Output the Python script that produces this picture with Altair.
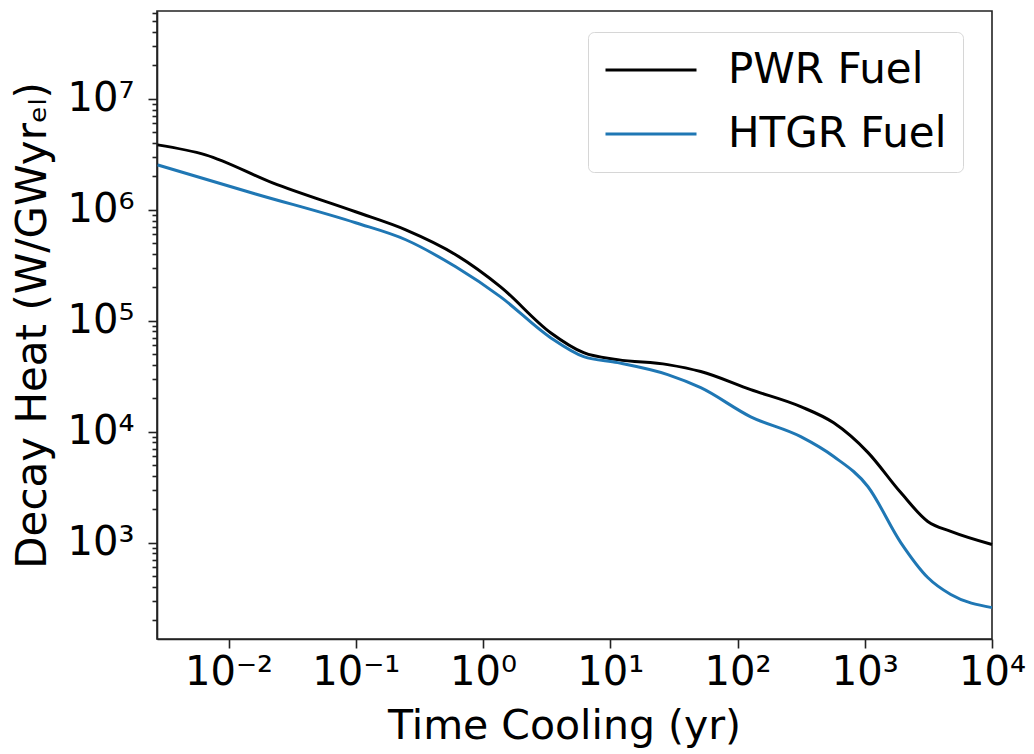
import altair as alt
import pandas as pd

# ---- data (years, W/GWyr_el) ----
pwr_time = [0.00277, 0.00659, 0.0222, 0.0996, 0.247, 0.610, 1.374, 3.396, 6.18, 11.43,
            28.25, 51.4, 127, 314, 570, 1057, 1919, 3126, 4742, 10000]
pwr_heat = [3.85e6, 3.13e6, 1.75e6, 9.6e5, 6.6e5, 3.94e5, 2.02e5, 7.8e4, 5.15e4, 4.46e4,
            4.02e4, 3.48e4, 2.39e4, 1.68e4, 1.2e4, 6.5e3, 2.82e3, 1.55e3, 1.26e3, 960]

htgr_time = [0.00277, 0.0163, 0.0996, 0.247, 0.610, 1.374, 3.396, 6.18, 11.43,
             28.25, 51.4, 127, 314, 570, 1057, 1919, 3126, 4742, 10000]
htgr_heat = [2.54e6, 1.39e6, 7.64e5, 5.37e5, 3.06e5, 1.64e5, 7.03e4, 4.74e4, 4.19e4,
             3.27e4, 2.49e4, 1.36e4, 9.0e3, 5.96e3, 3.2e3, 1.0e3, 484, 340, 259]

series_names = ["PWR Fuel", "HTGR Fuel"]
series_colors = ["#000000", "#1f77b4"]

x_major = [1e-2, 1e-1, 1e0, 1e1, 1e2, 1e3, 1e4]
y_ticks = [m * 10 ** e for e in range(2, 8) for m in range(1, 10)]
y_ticks = [v for v in y_ticks if 135 <= v <= 6.2e7]

df = pd.concat([
    pd.DataFrame({"time": pwr_time, "heat": pwr_heat, "fuel": series_names[0]}),
    pd.DataFrame({"time": htgr_time, "heat": htgr_heat, "fuel": series_names[1]}),
])

FONT = "DejaVu Sans"
sup = "['⁰','¹','²','³','⁴','⁵','⁶','⁷','⁸','⁹']"
exp_e = "round(log(datum.value)/LN10)"
label_expr = f"'10' + ({exp_e} < 0 ? '⁻' : '') + {sup}[abs({exp_e})]"
is_major = f"abs(log(datum.value)/LN10 - {exp_e}) < 0.000001"

x_axis = alt.Axis(
    values=x_major, labelExpr=label_expr, title="Time Cooling (yr)",
    grid=False, tickSize=9, tickWidth=1.6, tickColor="#222222",
    domainColor="#222222", domainWidth=1.6,
    labelFont=FONT, labelFontSize=40, labelColor="black", labelPadding=4,
    titleFont=FONT, titleFontSize=41, titleFontWeight="normal", titleColor="black",
    titlePadding=14, titleX=407, titleAlign="center",
    labelFlush=False, labelOverlap=False,
)
y_axis = alt.Axis(
    values=y_ticks,
    labelExpr=f"{is_major} ? {label_expr} : ''",
    title="Decay Heat (W/GWyrₑₗ)",
    grid=False,
    tickSize={"condition": {"test": is_major, "value": 9}, "value": 5},
    tickWidth=1.6, tickColor="#222222",
    domainColor="#222222", domainWidth=1.6,
    labelFont=FONT, labelFontSize=40, labelColor="black", labelPadding=14,
    titleFont=FONT, titleFontSize=42, titleFontWeight="normal", titleColor="black",
    titlePadding=13, labelFlush=False, labelOverlap=False,
)

chart = alt.Chart(df).mark_line(strokeWidth=3, interpolate="monotone").encode(
    x=alt.X("time:Q", scale=alt.Scale(type="log", domain=[0.00274, 10000], nice=False), axis=x_axis),
    y=alt.Y("heat:Q", scale=alt.Scale(type="log", domain=[135, 6.2e7], nice=False), axis=y_axis),
    color=alt.Color(
        "fuel:N",
        scale=alt.Scale(domain=series_names, range=series_colors),
        sort=series_names,
        legend=alt.Legend(
            title=None, orient="none", legendX=431, legendY=21,
            symbolType="stroke", symbolSize=8281, symbolStrokeWidth=3,
            labelFont=FONT, labelFontSize=42, labelColor="black", labelOffset=30,
            labelLimit=0, clipHeight=44, rowPadding=20,
            padding=16, strokeColor="#d6d6d6", cornerRadius=6, fillColor="white",
        ),
    ),
    order=alt.Order("time:Q"),
).properties(
    width=835, height=628,
    background="white",
    autosize=alt.AutoSizeParams(type="none"),
    padding={"left": 157, "top": 11, "right": 42, "bottom": 115},
).configure_view(stroke="#222222", strokeWidth=1.6)

chart.save("out.html", embed_options={"renderer": "svg", "actions": False})
